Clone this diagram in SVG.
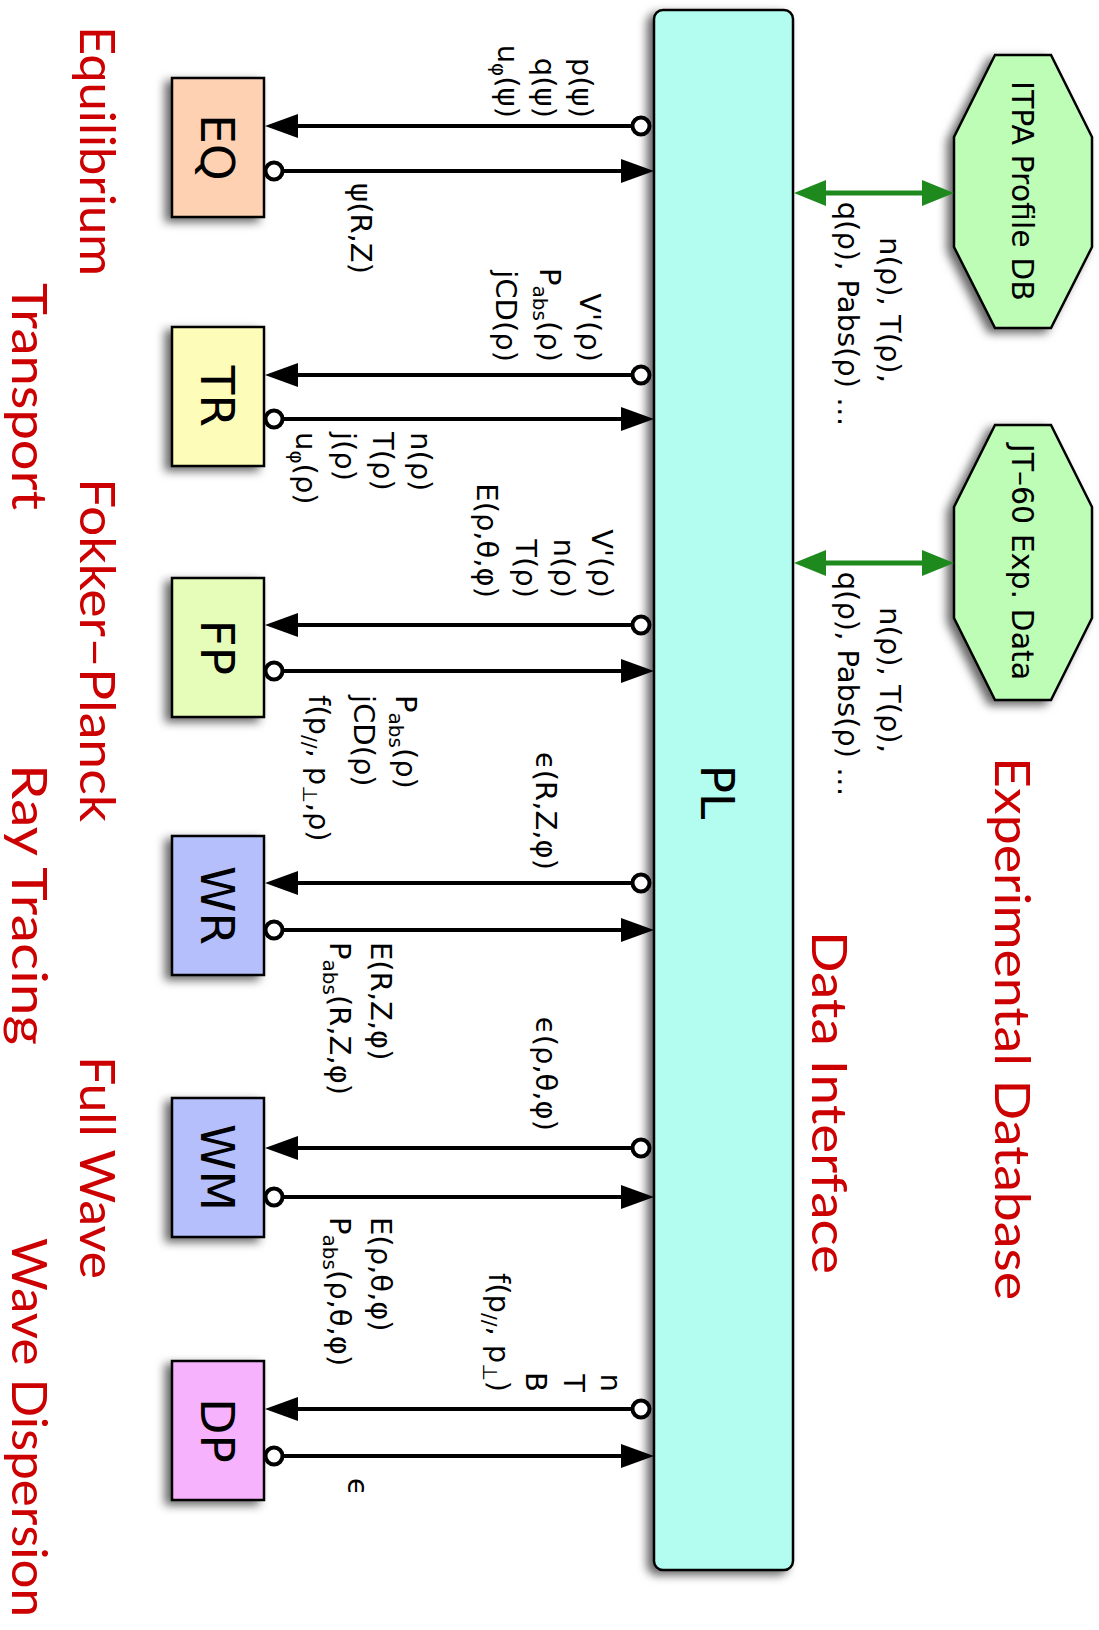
<svg xmlns="http://www.w3.org/2000/svg" width="1099" height="1630" viewBox="0 0 1099 1630">
<defs>
<style>
.box{stroke:#000;stroke-width:2.5}
.nl{font-family:"DejaVu Sans",sans-serif;font-size:47px;fill:#000;text-anchor:middle}
.lb{font-family:"DejaVu Sans",sans-serif;font-size:29px;fill:#000}
.e{text-anchor:end}
.m{text-anchor:middle}
.rd{font-family:Lato,"Liberation Sans",sans-serif;font-size:49px;fill:#cc0000}
.con{stroke:#000;stroke-width:4;fill:none}
.gcon{stroke:#1e8a1e;stroke-width:5;fill:none}
.sub{font-size:20px}
</style>
<filter id="sh" x="-30%" y="-20%" width="160%" height="140%">
<feDropShadow dx="-6" dy="4" stdDeviation="5" flood-color="#000" flood-opacity="0.6"/>
</filter>
<marker id="ah" markerUnits="userSpaceOnUse" markerWidth="34" markerHeight="26" refX="0" refY="12" orient="auto">
<path d="M0,0 L33,12 L0,24 z" fill="#000"/>
</marker>
<marker id="dot" markerUnits="userSpaceOnUse" markerWidth="24" markerHeight="24" refX="12" refY="12" orient="auto">
<circle cx="12" cy="12" r="8.5" fill="#fff" stroke="#000" stroke-width="4"/>
</marker>
<marker id="gah" markerUnits="userSpaceOnUse" markerWidth="34" markerHeight="28" refX="0" refY="13" orient="auto-start-reverse">
<path d="M0,0 L32,13 L0,26 z" fill="#1e8a1e"/>
</marker>
</defs>
<rect width="1099" height="1630" fill="#fff"/>

<g id="PL">
<rect class="box" x="654" y="10" width="139" height="1560" rx="9" fill="#b2fdf0" filter="url(#sh)"/>
<text class="nl" transform="translate(701,792) rotate(90)">PL</text>
</g>

<g id="EQ">
<rect class="box" x="172" y="78" width="92" height="139" fill="#fdd1b2" filter="url(#sh)"/>
<text class="nl" transform="translate(201,147.5) rotate(90)">EQ</text>
</g>
<g id="TR">
<rect class="box" x="172" y="327" width="92" height="139" fill="#fdfcb8" filter="url(#sh)"/>
<text class="nl" transform="translate(201,396.5) rotate(90)">TR</text>
</g>
<g id="FP">
<rect class="box" x="172" y="578" width="92" height="139" fill="#e5fdb8" filter="url(#sh)"/>
<text class="nl" transform="translate(201,647.5) rotate(90)">FP</text>
</g>
<g id="WR">
<rect class="box" x="172" y="836" width="92" height="139" fill="#b4bffc" filter="url(#sh)"/>
<text class="nl" transform="translate(201,905.5) rotate(90)">WR</text>
</g>
<g id="WM">
<rect class="box" x="172" y="1098" width="92" height="139" fill="#b4bffc" filter="url(#sh)"/>
<text class="nl" transform="translate(201,1167.5) rotate(90)">WM</text>
</g>
<g id="DP">
<rect class="box" x="172" y="1361" width="92" height="139" fill="#f6b2fc" filter="url(#sh)"/>
<text class="nl" transform="translate(201,1430.5) rotate(90)">DP</text>
</g>

<g id="ITPA">
<polygon class="box" points="995,55 1051,55 1092,137 1092,247 1051,328 995,328 954,247 954,137" fill="#bdfdb5" filter="url(#sh)"/>
<text class="lb m" style="font-size:30px" transform="translate(1012,191) rotate(90)">ITPA Profile DB</text>
</g>
<g id="JT60">
<polygon class="box" points="995,425 1051,425 1092,507 1092,618 1051,700 995,700 954,618 954,507" fill="#bdfdb5" filter="url(#sh)"/>
<text class="lb m" style="font-size:30px" transform="translate(1012,562) rotate(90)">JT–60 Exp. Data</text>
</g>

<g id="connectors">
<path class="con" d="M641,126 L298,126" marker-start="url(#dot)" marker-end="url(#ah)"/>
<path class="con" d="M274,171 L621,171" marker-start="url(#dot)" marker-end="url(#ah)"/>
<path class="con" d="M641,375 L298,375" marker-start="url(#dot)" marker-end="url(#ah)"/>
<path class="con" d="M274,419 L621,419" marker-start="url(#dot)" marker-end="url(#ah)"/>
<path class="con" d="M641,625 L298,625" marker-start="url(#dot)" marker-end="url(#ah)"/>
<path class="con" d="M274,671 L621,671" marker-start="url(#dot)" marker-end="url(#ah)"/>
<path class="con" d="M641,883 L298,883" marker-start="url(#dot)" marker-end="url(#ah)"/>
<path class="con" d="M274,930 L621,930" marker-start="url(#dot)" marker-end="url(#ah)"/>
<path class="con" d="M641,1148 L298,1148" marker-start="url(#dot)" marker-end="url(#ah)"/>
<path class="con" d="M274,1197 L621,1197" marker-start="url(#dot)" marker-end="url(#ah)"/>
<path class="con" d="M641,1409 L298,1409" marker-start="url(#dot)" marker-end="url(#ah)"/>
<path class="con" d="M274,1456 L621,1456" marker-start="url(#dot)" marker-end="url(#ah)"/>
<path class="gcon" d="M826,193 L922,193" marker-start="url(#gah)" marker-end="url(#gah)"/>
<path class="gcon" d="M826,563 L922,563" marker-start="url(#gah)" marker-end="url(#gah)"/>
</g>

<g id="labels" transform="rotate(90)">
<text class="lb e" x="118" y="-572">p(ψ)</text>
<text class="lb e" x="118" y="-535">q(ψ)</text>
<text class="lb e" x="118" y="-498">u<tspan class="sub" dy="6">φ</tspan><tspan dy="-6">(ψ)</tspan></text>
<text class="lb" x="183" y="-351">ψ(R,Z)</text>

<text class="lb e" x="362" y="-580">V'(ρ)</text>
<text class="lb e" x="362" y="-540">P<tspan class="sub" dy="7">abs</tspan><tspan dy="-7">(ρ)</tspan></text>
<text class="lb e" x="362" y="-496">jCD(ρ)</text>
<text class="lb" x="432" y="-411">n(ρ)</text>
<text class="lb" x="432" y="-373">T(ρ)</text>
<text class="lb" x="432" y="-335">j(ρ)</text>
<text class="lb" x="432" y="-296">u<tspan class="sub" dy="6">φ</tspan><tspan dy="-6">(ρ)</tspan></text>

<text class="lb e" x="598" y="-592">V'(ρ)</text>
<text class="lb e" x="598" y="-554">n(ρ)</text>
<text class="lb e" x="598" y="-516">T(ρ)</text>
<text class="lb e" x="598" y="-477">E(ρ,θ,φ)</text>
<text class="lb" x="695" y="-396">P<tspan class="sub" dy="7">abs</tspan><tspan dy="-7">(ρ)</tspan></text>
<text class="lb" x="695" y="-354">jCD(ρ)</text>
<text class="lb" x="695" y="-309">f(p<tspan class="sub" dy="6">//</tspan><tspan dy="-6">, p</tspan><tspan class="sub" dy="6">⊥</tspan><tspan dy="-6">,ρ)</tspan></text>

<text class="lb e" x="870" y="-536">ϵ(R,Z,φ)</text>
<text class="lb" x="942" y="-371">E(R,Z,φ)</text>
<text class="lb" x="942" y="-330">P<tspan class="sub" dy="7">abs</tspan><tspan dy="-7">(R,Z,φ)</tspan></text>

<text class="lb e" x="1131" y="-536">ϵ(ρ,θ,φ)</text>
<text class="lb" x="1217" y="-371">E(ρ,θ,φ)</text>
<text class="lb" x="1217" y="-330">P<tspan class="sub" dy="7">abs</tspan><tspan dy="-7">(ρ,θ,φ)</tspan></text>

<text class="lb e" x="1392" y="-601">n</text>
<text class="lb e" x="1392" y="-564">T</text>
<text class="lb e" x="1392" y="-526">B</text>
<text class="lb e" x="1392" y="-489">f(p<tspan class="sub" dy="6">//</tspan><tspan dy="-6">, p</tspan><tspan class="sub" dy="6">⊥</tspan><tspan dy="-6">)</tspan></text>
<text class="lb" x="1478" y="-348">ϵ</text>

<text class="lb m" x="310" y="-880">n(ρ), T(ρ),</text>
<text class="lb m" x="314" y="-838">q(ρ), Pabs(ρ) …</text>
<text class="lb m" x="680" y="-880">n(ρ), T(ρ),</text>
<text class="lb m" x="684" y="-838">q(ρ), Pabs(ρ) …</text>

<text class="rd" x="26" y="-80" textLength="250" lengthAdjust="spacingAndGlyphs">Equilibrium</text>
<text class="rd" x="283" y="-12" textLength="227" lengthAdjust="spacingAndGlyphs">Transport</text>
<text class="rd" x="478" y="-80" textLength="344" lengthAdjust="spacingAndGlyphs">Fokker–Planck</text>
<text class="rd" x="764" y="-12" textLength="281" lengthAdjust="spacingAndGlyphs">Ray Tracing</text>
<text class="rd" x="1056" y="-80" textLength="223" lengthAdjust="spacingAndGlyphs">Full Wave</text>
<text class="rd" x="1238" y="-12" textLength="379" lengthAdjust="spacingAndGlyphs">Wave Dispersion</text>
<text class="rd" x="931" y="-812" textLength="343" lengthAdjust="spacingAndGlyphs">Data Interface</text>
<text class="rd" x="757" y="-995" textLength="543" lengthAdjust="spacingAndGlyphs">Experimental Database</text>
</g>
</svg>
